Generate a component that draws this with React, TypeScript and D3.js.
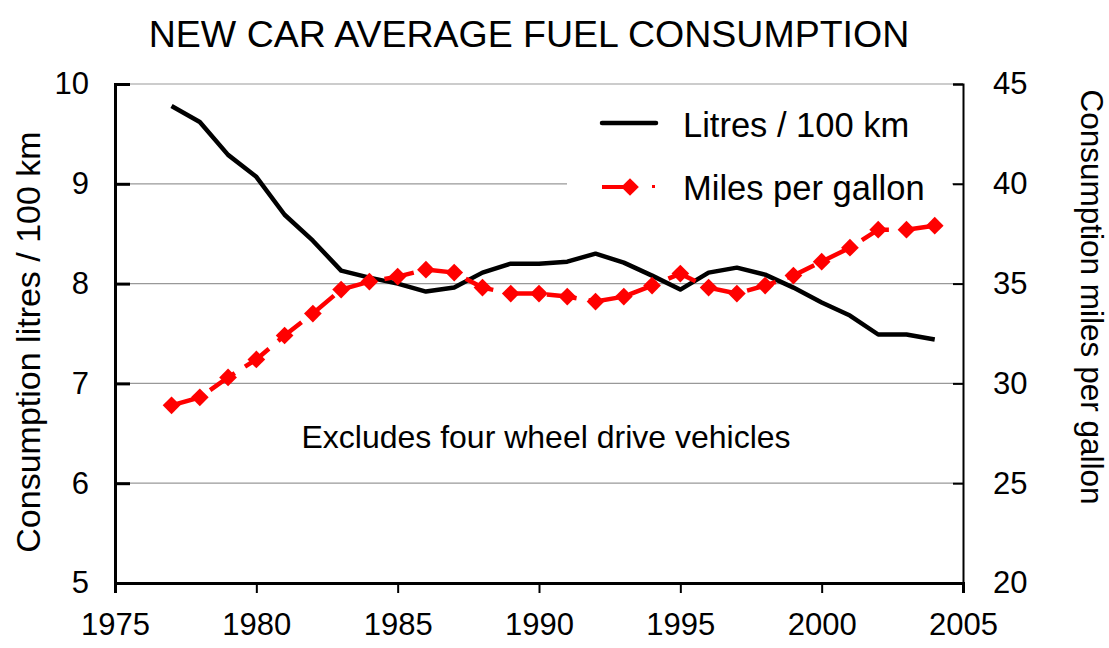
import React, { useEffect, useRef } from 'react'
import * as d3 from 'd3'

// years and the two series
const years = [1977, 1978, 1979, 1980, 1981, 1982, 1983, 1984, 1985, 1986, 1987, 1988, 1989, 1990,
    1991, 1992, 1993, 1994, 1995, 1996, 1997, 1998, 1999, 2000, 2001, 2002, 2003, 2004]
const litres = [9.78, 9.62, 9.29, 9.07, 8.69, 8.43, 8.13, 8.06, 8.0, 7.92, 7.96, 8.11, 8.2, 8.2,
    8.22, 8.3, 8.21, 8.08, 7.94, 8.11, 8.16, 8.09, 7.96, 7.81, 7.68, 7.49, 7.49, 7.44]
const mpg = [28.9, 29.3, 30.3, 31.2, 32.4, 33.5, 34.7, 35.1, 35.35, 35.7, 35.55, 34.8, 34.5, 34.5,
    34.35, 34.1, 34.35, 34.9, 35.5, 34.8, 34.5, 34.9, 35.4, 36.1, 36.8, 37.7, 37.7, 37.9]
const xTicks = [1975, 1980, 1985, 1990, 1995, 2000, 2005]
const leftTicks = [5, 6, 7, 8, 9, 10]
const rightTicks = [20, 25, 30, 35, 40, 45]

const FONT = '"Liberation Sans", Arial, sans-serif'

const App = () => {
    const ref = useRef<SVGSVGElement | null>(null)

    useEffect(() => {
        const w = 1109, h = 648
        const left = 115, right = 963, top = 84, bottom = 583
        const svg = d3.select(ref.current)
        svg.selectAll('*').remove()
        svg.attr('width', w).attr('height', h).style('background', '#fff').style('display', 'block')

        const x = d3.scaleLinear().domain([1975, 2005]).range([left, right])
        const yL = d3.scaleLinear().domain([5, 10]).range([bottom, top])
        const yR = d3.scaleLinear().domain([20, 45]).range([bottom, top])

        // grid lines
        svg.append('g').selectAll('line').data(leftTicks.slice(1)).join('line')
            .attr('x1', left).attr('x2', right)
            .attr('y1', d => yL(d)).attr('y2', d => yL(d))
            .attr('stroke', '#999').attr('stroke-width', 1.2)

        // legend box background (covers the grid)
        svg.append('rect').attr('x', 567).attr('y', 96).attr('width', 385).attr('height', 118).attr('fill', '#fff')

        // axes
        const gl = svg.append('g').attr('transform', `translate(${left},0)`)
            .call(d3.axisLeft(yL).tickValues(leftTicks).tickSize(-15).tickPadding(26).tickFormat(d3.format('d')))
        gl.select('.domain').attr('stroke-width', 3)
        gl.selectAll('.tick line').attr('stroke-width', 3)
        gl.selectAll('.tick text').attr('font-family', FONT).attr('font-size', 31).attr('fill', '#000')

        const gr = svg.append('g').attr('transform', `translate(${right},0)`)
            .call(d3.axisRight(yR).tickValues(rightTicks).tickSize(-10).tickPadding(30).tickFormat(d3.format('d')))
        gr.select('.domain').attr('stroke-width', 2)
        gr.selectAll('.tick line').attr('stroke-width', 2)
        gr.selectAll('.tick text').attr('font-family', FONT).attr('font-size', 31).attr('fill', '#000')

        const gb = svg.append('g').attr('transform', `translate(0,${bottom})`)
            .call(d3.axisBottom(x).tickValues(xTicks).tickSize(10).tickPadding(20).tickFormat(d3.format('d')))
        gb.select('.domain').attr('stroke-width', 3)
        gb.selectAll('.tick line').attr('stroke-width', 2)
        gb.selectAll('.tick text').attr('font-family', FONT).attr('font-size', 31).attr('fill', '#000')
        svg.selectAll('.domain').attr('stroke', '#000')

        // litres line
        const lineL = d3.line<number>().x((d, i) => x(years[i])).y(d => yL(d))
        svg.append('path').datum(litres).attr('d', lineL)
            .attr('fill', 'none').attr('stroke', '#000').attr('stroke-width', 4.5).attr('stroke-linejoin', 'round')

        // mpg line
        const lineR = d3.line<number>().x((d, i) => x(years[i])).y(d => yR(d))
        svg.append('path').datum(mpg).attr('d', lineR)
            .attr('fill', 'none').attr('stroke', '#f00').attr('stroke-width', 4.5)
            .attr('stroke-dasharray', '30,12')

        const diamond = d3.symbol().type(d3.symbolDiamond2).size(200)
        svg.append('g').selectAll('path').data(mpg).join('path')
            .attr('d', diamond)
            .attr('transform', (d, i) => `translate(${x(years[i])},${yR(d)})`)
            .attr('fill', '#f00')

        // legend
        svg.append('line').attr('x1', 602).attr('x2', 656).attr('y1', 123).attr('y2', 123)
            .attr('stroke', '#000').attr('stroke-width', 4.5).attr('stroke-linecap', 'round')
        svg.append('text').attr('x', 683).attr('y', 137).text('Litres / 100 km')
            .attr('font-family', FONT).attr('font-size', 34.5)
        svg.append('line').attr('x1', 602).attr('x2', 632).attr('y1', 187).attr('y2', 187)
            .attr('stroke', '#f00').attr('stroke-width', 4)
        svg.append('path').attr('d', diamond).attr('transform', 'translate(630,187)').attr('fill', '#f00')
        svg.append('rect').attr('x', 652).attr('y', 185).attr('width', 3).attr('height', 3).attr('fill', '#f00')
        svg.append('text').attr('x', 683).attr('y', 200).text('Miles per gallon')
            .attr('font-family', FONT).attr('font-size', 34.5)

        // note
        svg.append('text').attr('x', 546).attr('y', 448).attr('text-anchor', 'middle')
            .text('Excludes four wheel drive vehicles').attr('font-family', FONT).attr('font-size', 32)

        // title
        svg.append('text').attr('x', 529).attr('y', 47).attr('text-anchor', 'middle')
            .text('NEW CAR AVERAGE FUEL CONSUMPTION').attr('font-family', FONT).attr('font-size', 37.5)

        // axis titles
        svg.append('text').attr('transform', 'translate(40,342) rotate(-90)').attr('text-anchor', 'middle')
            .text('Consumption litres / 100 km').attr('font-family', FONT).attr('font-size', 34)
        svg.append('text').attr('transform', 'translate(1081,297) rotate(90)').attr('text-anchor', 'middle')
            .text('Consumption miles per gallon').attr('font-family', FONT).attr('font-size', 31.5)
    }, [])

    return (<>
        <div style={{ position: 'absolute', left: 0, top: 0 }}>
            <svg ref={ref}></svg>
        </div>
    </>)
}

export default App
